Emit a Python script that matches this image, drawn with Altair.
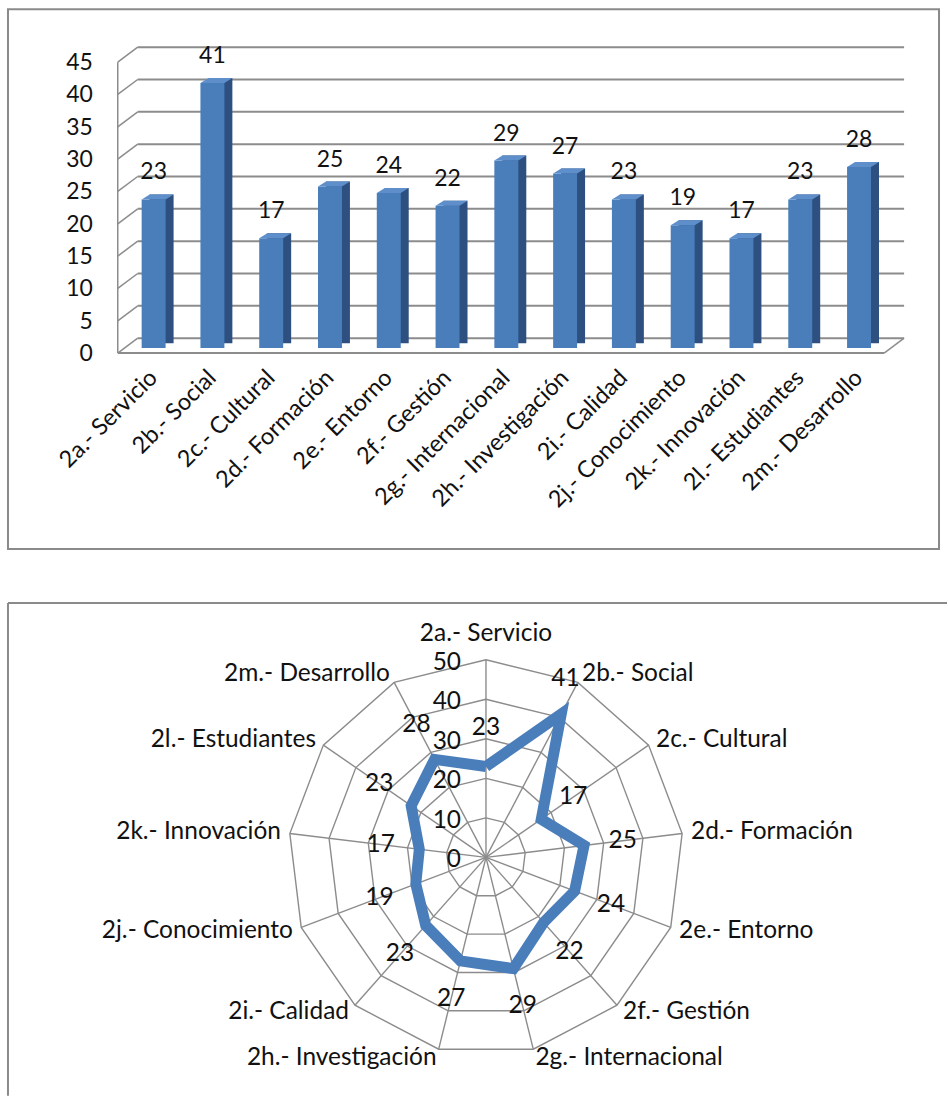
import math

import altair as alt
import pandas as pd

# ---------------------------------------------------------------- data
categories = [
    "2a.- Servicio", "2b.- Social", "2c.- Cultural", "2d.- Formación",
    "2e.- Entorno", "2f.- Gestión", "2g.- Internacional", "2h.- Investigación",
    "2i.- Calidad", "2j.- Conocimiento", "2k.- Innovación", "2l.- Estudiantes",
    "2m.- Desarrollo",
]
values = [23, 41, 17, 25, 24, 22, 29, 27, 23, 19, 17, 23, 28]
bar_ticks = [0, 5, 10, 15, 20, 25, 30, 35, 40, 45]
radar_ticks = [0, 10, 20, 30, 40, 50]

# ---------------------------------------------------------------- style
FONT = "Lato"
TEXT = "#111111"
BLUE = "#4A7EBB"
BLUE_SIDE = "#2D5080"
BLUE_TOP = "#5F8FCB"
GRID = "#8C8C8C"
BORDER = "#8A8A8A"
BAR_FS = 23
RADAR_FS = 24.5

# ================================================================ bar chart
BW, BH = 933, 541
bars = pd.DataFrame({"cat": categories, "value": values})
ticks = pd.DataFrame({"tick": bar_ticks})
frame = pd.DataFrame({"lo": [0], "hi": [max(bar_ticks)]})

x_scale = alt.Scale(domain=categories, range=[116.5, 882.3],
                    paddingInner=0.5925, paddingOuter=0.29625)
y_scale = alt.Scale(domain=[0, 45], range=[339.7, 48.1], nice=False)

X = alt.X("cat:N", scale=x_scale, axis=None, sort=categories)
Y = alt.Y("value:Q", scale=y_scale, axis=None)

# 3-D walls: back grid lines, left-wall diagonals, left edge and floor
back_grid = alt.Chart(ticks).mark_rule(color=GRID, strokeWidth=2, yOffset=-10).encode(
    x=alt.value(130), x2=alt.value(898),
    y=alt.Y("tick:Q", scale=y_scale, axis=None),
)
wall_diag = alt.Chart(ticks).mark_rule(color=GRID, strokeWidth=1.5, yOffset=5, y2Offset=-10).encode(
    x=alt.value(110), x2=alt.value(130),
    y=alt.Y("tick:Q", scale=y_scale, axis=None), y2="tick:Q",
)
wall_edge = alt.Chart(frame).mark_rule(color=GRID, strokeWidth=1.5, yOffset=5, y2Offset=5).encode(
    x=alt.value(110), y=alt.Y("lo:Q", scale=y_scale, axis=None), y2="hi:Q",
)
floor_front = alt.Chart(frame).mark_rule(color=GRID, strokeWidth=2, yOffset=5).encode(
    x=alt.value(110), x2=alt.value(878), y=alt.Y("lo:Q", scale=y_scale, axis=None),
)
floor_side = alt.Chart(frame).mark_rule(color=GRID, strokeWidth=1.5, yOffset=5, y2Offset=-10).encode(
    x=alt.value(878), x2=alt.value(898),
    y=alt.Y("lo:Q", scale=y_scale, axis=None), y2="lo:Q",
)

# bars: dark side face, front face, lighter top face
bar_side = alt.Chart(bars).mark_bar(color=BLUE_SIDE, xOffset=8, yOffset=-5, y2Offset=-3).encode(x=X, y=Y)
bar_front = alt.Chart(bars).mark_bar(color=BLUE).encode(x=X, y=Y)
TOP_FACE = "M -0.75 0 L 0.75 0 L 1.25 -0.3125 L -0.25 -0.3125 Z"
bar_top = alt.Chart(bars).mark_point(
    shape=TOP_FACE, size=1024, filled=True, color=BLUE_TOP, opacity=1, strokeWidth=0
).encode(x=X, y=Y)

value_text = alt.Chart(bars).mark_text(
    font=FONT, fontSize=BAR_FS, color=TEXT, dy=-27, baseline="middle"
).encode(x=X, y=Y, text="value:Q")

y_labels = alt.Chart(ticks).mark_text(
    font=FONT, fontSize=BAR_FS, color=TEXT, align="right", baseline="middle", dy=6
).encode(x=alt.value(85), y=alt.Y("tick:Q", scale=y_scale, axis=None), text="tick:Q")

x_labels = alt.Chart(bars).mark_text(
    font=FONT, fontSize=23.5, color=TEXT, angle=315, align="right", baseline="middle", xOffset=0
).encode(x=X, y=alt.value(366), text="cat:N")

bar_chart = alt.layer(
    back_grid, wall_diag, wall_edge, floor_front, floor_side,
    bar_side, bar_front, bar_top, value_text, y_labels, x_labels,
).properties(
    width=BW, height=BH,
    view=alt.ViewBackground(stroke=BORDER, strokeWidth=2),
)

# ================================================================ radar chart
RW, RH = 941, 494
CX, CY = 479, 255          # centre of the web inside the panel
PX = 198 / 50              # pixels per unit of value
N = len(categories)


def angle(i):
    return 2 * math.pi * i / N


rings = pd.DataFrame([
    {"level": lv, "k": k,
     "x": lv * PX * math.sin(angle(k % N)), "y": lv * PX * math.cos(angle(k % N))}
    for lv in radar_ticks[1:] for k in range(N + 1)
])
spokes = pd.DataFrame([
    {"x": 0.0, "y": 0.0,
     "x2": radar_ticks[-1] * PX * math.sin(angle(i)),
     "y2": radar_ticks[-1] * PX * math.cos(angle(i))}
    for i in range(N)
])
series = pd.DataFrame([
    {"k": k, "x": values[k % N] * PX * math.sin(angle(k % N)),
     "y": values[k % N] * PX * math.cos(angle(k % N))}
    for k in range(N + 1)
])

# value labels sit a fixed distance outside their point
LABEL_GAP = 39
label_nudge = {"2b.- Social": -14}
value_labels = pd.DataFrame([
    {"value": v,
     "x": (v * PX + LABEL_GAP) * math.sin(angle(i)) + label_nudge.get(c, 0),
     "y": (v * PX + LABEL_GAP) * math.cos(angle(i))}
    for i, (c, v) in enumerate(zip(categories, values))
])

CAT_R = radar_ticks[-1] * PX + 9


def side(i):
    s = math.sin(angle(i))
    return "center" if abs(s) < 0.1 else ("left" if s > 0 else "right")


cat_labels = pd.DataFrame([
    {"cat": c, "side": side(i),
     "x": CAT_R * math.sin(angle(i)), "y": CAT_R * math.cos(angle(i))}
    for i, c in enumerate(categories)
])
tick_labels = pd.DataFrame({
    "tick": radar_ticks,
    "x": [0.0] * len(radar_ticks),
    "y": [t * PX for t in radar_ticks],
})

# panel border (top and left edges; the panel runs off the page on the others)
edges = pd.DataFrame({
    "x": [-CX, -CX], "y": [CY, CY - RH],
    "x2": [RW - CX, -CX], "y2": [CY, CY],
})

rx = alt.Scale(domain=[-CX, RW - CX], nice=False, zero=False)
ry = alt.Scale(domain=[CY - RH, CY], nice=False, zero=False)
RX = alt.X("x:Q", scale=rx, axis=None)
RY = alt.Y("y:Q", scale=ry, axis=None)

ring_layer = alt.Chart(rings).mark_line(color=GRID, strokeWidth=1.4).encode(
    x=RX, y=RY, detail="level:N", order="k:Q")
spoke_layer = alt.Chart(spokes).mark_rule(color=GRID, strokeWidth=1.4).encode(
    x=RX, y=RY, x2="x2:Q", y2="y2:Q")
series_layer = alt.Chart(series).mark_line(color=BLUE, strokeWidth=11, strokeJoin="miter").encode(
    x=RX, y=RY, order="k:Q")
value_layer = alt.Chart(value_labels).mark_text(
    font=FONT, fontSize=RADAR_FS, color=TEXT, baseline="middle").encode(x=RX, y=RY, text="value:Q")
tick_layer = alt.Chart(tick_labels).mark_text(
    font=FONT, fontSize=RADAR_FS, color=TEXT, align="right", baseline="middle", dx=-25, dy=3
).encode(x=RX, y=RY, text="tick:Q")
edge_layer = alt.Chart(edges).mark_rule(color=BORDER, strokeWidth=2).encode(
    x=RX, y=RY, x2="x2:Q", y2="y2:Q")


def cat_text(sd, baseline, dy=0):
    return alt.Chart(cat_labels).transform_filter(alt.datum.side == sd).mark_text(
        font=FONT, fontSize=RADAR_FS, color=TEXT, align=sd, baseline=baseline, dy=dy
    ).encode(x=RX, y=RY, text="cat:N")


radar_chart = alt.layer(
    ring_layer, spoke_layer, series_layer, value_layer, tick_layer,
    cat_text("left", "middle"), cat_text("right", "middle"), cat_text("center", "bottom", -5),
    edge_layer,
).properties(
    width=RW, height=RH,
    view=alt.ViewBackground(strokeWidth=0),
)

chart = alt.vconcat(bar_chart, radar_chart, spacing=52).properties(
    padding={"left": 7, "top": 7, "right": 0, "bottom": 0}
)

chart.save("out.html", embed_options={"renderer": "svg", "actions": False})
